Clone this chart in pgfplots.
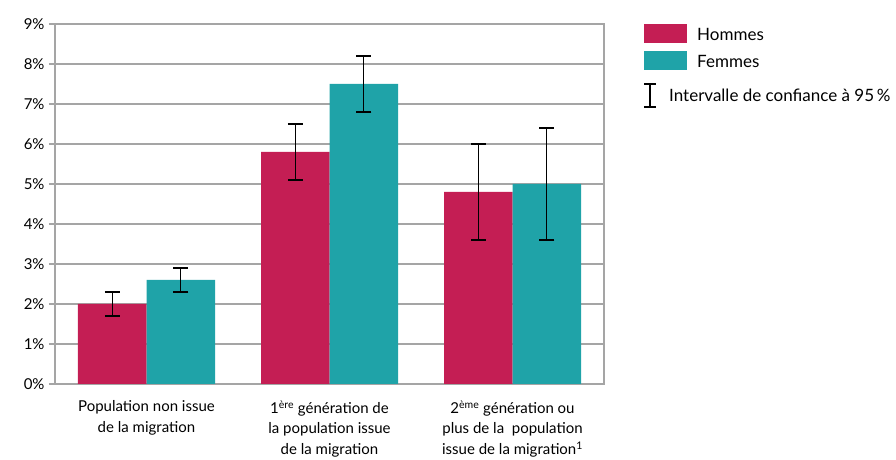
\documentclass[border=0pt]{standalone}
\usepackage{fontspec}
\setmainfont{Lato}
\usepackage{pgfplots}
\pgfplotsset{compat=1.18}
\definecolor{hom}{RGB}{196,30,84}
\definecolor{fem}{RGB}{31,163,168}
\definecolor{gridc}{RGB}{165,165,165}
\begin{document}
\begin{tikzpicture}[x=1bp,y=1bp,font=\fontsize{15bp}{20.5bp}\selectfont]
\useasboundingbox (-55,-76) rectangle (841,384);
\begin{axis}[
  at={(0,0)}, anchor=south west,
  scale only axis, width=549bp, height=360bp,
  xmin=-0.5, xmax=2.5, ymin=0, ymax=9,
  ybar=0pt, bar width=68.5bp,
  axis line style={gridc, line width=1.5bp},
  ytick={0,1,...,9}, ymajorgrids,
  grid style={gridc, line width=1.2bp},
  tick align=outside, tickpos=left, major tick length=6bp,
  ytick style={gridc, line width=1.2bp},
  xtick={0,1,2}, xtick style={draw=none},
  /pgf/number format/assume math mode=true,
  yticklabel={\pgfmathprintnumber{\tick}\%},
  yticklabel style={xshift=-1bp},
  xticklabels={{Population non issue\\de la migration},
               {1\textsuperscript{ère} génération de\\la population issue\\de la migration},
               {2\textsuperscript{ème} génération ou\\plus de la\ \ population\\issue de la migration\textsuperscript{1}}},
  xticklabel style={align=center, yshift=-7bp},
  error bars/error bar style={black, line width=1.2bp},
  error bars/error mark options={rotate=90, black, mark size=7.5bp, line width=1.2bp},
]
\addplot[fill=hom, draw=none, error bars/.cd, y dir=both, y explicit]
  coordinates {(0,2.0) +- (0,0.3) (1,5.8) +- (0,0.7) (2,4.8) +- (0,1.2)};
\addplot[fill=fem, draw=none, error bars/.cd, y dir=both, y explicit]
  coordinates {(0,2.6) +- (0,0.3) (1,7.5) +- (0,0.7) (2,5.0) +- (0,1.4)};
\end{axis}
\begin{scope}[font=\fontsize{17bp}{20bp}\selectfont]
\fill[hom] (589,360) rectangle (632,341);
\fill[fem] (589,333) rectangle (632,314);
\node[anchor=west, inner sep=0pt] at (642,350) {Hommes};
\node[anchor=west, inner sep=0pt] at (642,323) {Femmes};
\draw[black, line width=1.2bp] (595,300) -- (595,277) (589,300) -- (601,300) (589,277) -- (601,277);
\node[anchor=west, inner sep=0pt] at (614,289) {Intervalle de confiance à 95\,\%};
\end{scope}
\end{tikzpicture}
\end{document}
